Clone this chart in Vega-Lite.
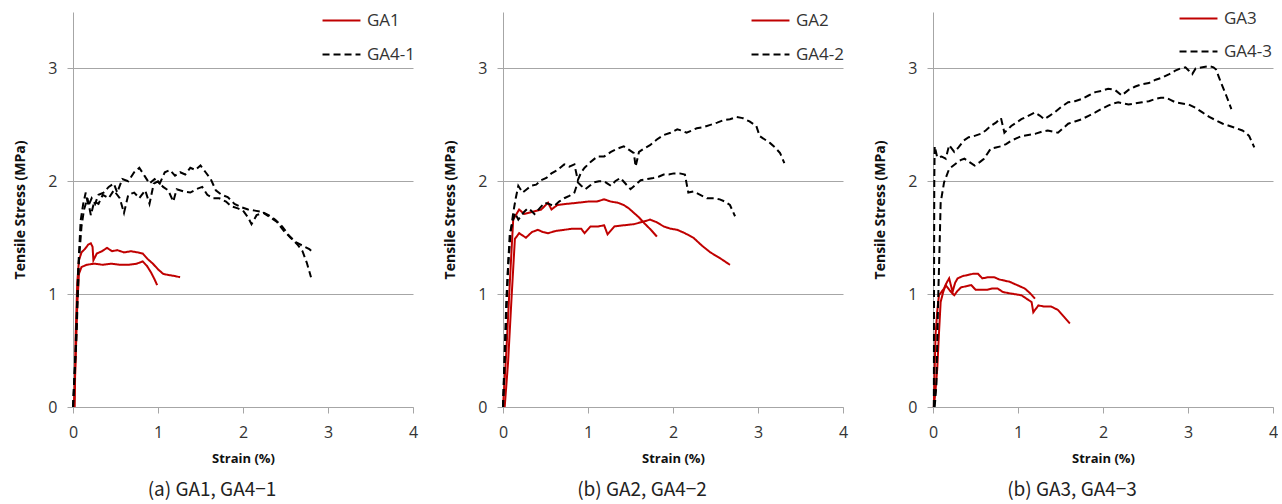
{
"$schema": "https://vega.github.io/schema/vega-lite/v6.json",
"padding": {"left": 13, "top": 10, "right": 0, "bottom": 0},
"spacing": 25,
"config": {
 "font": "Open Sans",
 "view": {"stroke": null},
 "axis": {"domainColor": "#a6a6a6", "tickColor": "#a6a6a6", "gridColor": "#a6a6a6", "labelColor": "#333333", "titleColor": "#111111", "labelFont": "Open Sans", "labelFontSize": 16, "tickSize": 6, "titleFont": "Open Sans", "titleFontWeight": "bold", "labelFlush": false},
 "legend": {"symbolType": "M-4,0H4", "symbolSize": 90, "symbolStrokeWidth": 2, "labelFontSize": 17, "labelFont": "Open Sans", "labelColor": "#333333", "rowPadding": 16, "labelOffset": 17, "padding": 0},
 "title": {"font": "Noto Sans CJK KR", "fontSize": 19, "fontWeight": "normal", "color": "#222222"}
},
"data": {"values": [
{"p":1,"s":"GA1","k":"a","x":0.02,"y":0},{"p":1,"s":"GA1","k":"a","x":0.03,"y":0.6},{"p":1,"s":"GA1","k":"a","x":0.05,"y":1.1},{"p":1,"s":"GA1","k":"a","x":0.07,"y":1.3},{"p":1,"s":"GA1","k":"a","x":0.1,"y":1.37},{"p":1,"s":"GA1","k":"a","x":0.14,"y":1.4},{"p":1,"s":"GA1","k":"a","x":0.18,"y":1.44},{"p":1,"s":"GA1","k":"a","x":0.21,"y":1.45},{"p":1,"s":"GA1","k":"a","x":0.23,"y":1.42},{"p":1,"s":"GA1","k":"a","x":0.24,"y":1.3},{"p":1,"s":"GA1","k":"a","x":0.28,"y":1.36},{"p":1,"s":"GA1","k":"a","x":0.34,"y":1.38},{"p":1,"s":"GA1","k":"a","x":0.4,"y":1.41},{"p":1,"s":"GA1","k":"a","x":0.46,"y":1.38},{"p":1,"s":"GA1","k":"a","x":0.52,"y":1.39},{"p":1,"s":"GA1","k":"a","x":0.6,"y":1.37},{"p":1,"s":"GA1","k":"a","x":0.68,"y":1.38},{"p":1,"s":"GA1","k":"a","x":0.76,"y":1.37},{"p":1,"s":"GA1","k":"a","x":0.82,"y":1.36},{"p":1,"s":"GA1","k":"a","x":0.88,"y":1.31},{"p":1,"s":"GA1","k":"a","x":0.94,"y":1.27},{"p":1,"s":"GA1","k":"a","x":1.0,"y":1.22},{"p":1,"s":"GA1","k":"a","x":1.06,"y":1.18},{"p":1,"s":"GA1","k":"a","x":1.12,"y":1.17},{"p":1,"s":"GA1","k":"a","x":1.2,"y":1.16},{"p":1,"s":"GA1","k":"a","x":1.26,"y":1.15},
{"p":1,"s":"GA1","k":"b","x":0.01,"y":0},{"p":1,"s":"GA1","k":"b","x":0.03,"y":0.4},{"p":1,"s":"GA1","k":"b","x":0.05,"y":0.9},{"p":1,"s":"GA1","k":"b","x":0.07,"y":1.18},{"p":1,"s":"GA1","k":"b","x":0.1,"y":1.24},{"p":1,"s":"GA1","k":"b","x":0.16,"y":1.26},{"p":1,"s":"GA1","k":"b","x":0.25,"y":1.27},{"p":1,"s":"GA1","k":"b","x":0.35,"y":1.26},{"p":1,"s":"GA1","k":"b","x":0.45,"y":1.27},{"p":1,"s":"GA1","k":"b","x":0.55,"y":1.26},{"p":1,"s":"GA1","k":"b","x":0.65,"y":1.26},{"p":1,"s":"GA1","k":"b","x":0.75,"y":1.27},{"p":1,"s":"GA1","k":"b","x":0.82,"y":1.29},{"p":1,"s":"GA1","k":"b","x":0.87,"y":1.25},{"p":1,"s":"GA1","k":"b","x":0.92,"y":1.19},{"p":1,"s":"GA1","k":"b","x":0.96,"y":1.13},{"p":1,"s":"GA1","k":"b","x":0.99,"y":1.08},
{"p":1,"s":"GA4-1","k":"c","x":0,"y":0},{"p":1,"s":"GA4-1","k":"c","x":0.03,"y":0.5},{"p":1,"s":"GA4-1","k":"c","x":0.06,"y":1.2},{"p":1,"s":"GA4-1","k":"c","x":0.09,"y":1.65},{"p":1,"s":"GA4-1","k":"c","x":0.12,"y":1.8},{"p":1,"s":"GA4-1","k":"c","x":0.15,"y":1.9},{"p":1,"s":"GA4-1","k":"c","x":0.18,"y":1.78},{"p":1,"s":"GA4-1","k":"c","x":0.22,"y":1.85},{"p":1,"s":"GA4-1","k":"c","x":0.26,"y":1.8},{"p":1,"s":"GA4-1","k":"c","x":0.3,"y":1.88},{"p":1,"s":"GA4-1","k":"c","x":0.36,"y":1.9},{"p":1,"s":"GA4-1","k":"c","x":0.42,"y":1.95},{"p":1,"s":"GA4-1","k":"c","x":0.48,"y":1.98},{"p":1,"s":"GA4-1","k":"c","x":0.52,"y":1.9},{"p":1,"s":"GA4-1","k":"c","x":0.58,"y":2.02},{"p":1,"s":"GA4-1","k":"c","x":0.65,"y":2.0},{"p":1,"s":"GA4-1","k":"c","x":0.72,"y":2.08},{"p":1,"s":"GA4-1","k":"c","x":0.78,"y":2.12},{"p":1,"s":"GA4-1","k":"c","x":0.84,"y":2.05},{"p":1,"s":"GA4-1","k":"c","x":0.9,"y":1.98},{"p":1,"s":"GA4-1","k":"c","x":0.96,"y":2.02},{"p":1,"s":"GA4-1","k":"c","x":1.02,"y":1.98},{"p":1,"s":"GA4-1","k":"c","x":1.08,"y":2.08},{"p":1,"s":"GA4-1","k":"c","x":1.14,"y":2.1},{"p":1,"s":"GA4-1","k":"c","x":1.2,"y":2.05},{"p":1,"s":"GA4-1","k":"c","x":1.26,"y":2.08},{"p":1,"s":"GA4-1","k":"c","x":1.32,"y":2.06},{"p":1,"s":"GA4-1","k":"c","x":1.38,"y":2.12},{"p":1,"s":"GA4-1","k":"c","x":1.44,"y":2.1},{"p":1,"s":"GA4-1","k":"c","x":1.5,"y":2.14},{"p":1,"s":"GA4-1","k":"c","x":1.56,"y":2.08},{"p":1,"s":"GA4-1","k":"c","x":1.62,"y":2.02},{"p":1,"s":"GA4-1","k":"c","x":1.68,"y":1.92},{"p":1,"s":"GA4-1","k":"c","x":1.75,"y":1.88},{"p":1,"s":"GA4-1","k":"c","x":1.82,"y":1.86},{"p":1,"s":"GA4-1","k":"c","x":1.9,"y":1.8},{"p":1,"s":"GA4-1","k":"c","x":1.98,"y":1.77},{"p":1,"s":"GA4-1","k":"c","x":2.06,"y":1.75},{"p":1,"s":"GA4-1","k":"c","x":2.14,"y":1.74},{"p":1,"s":"GA4-1","k":"c","x":2.22,"y":1.73},{"p":1,"s":"GA4-1","k":"c","x":2.3,"y":1.7},{"p":1,"s":"GA4-1","k":"c","x":2.38,"y":1.66},{"p":1,"s":"GA4-1","k":"c","x":2.46,"y":1.6},{"p":1,"s":"GA4-1","k":"c","x":2.54,"y":1.52},{"p":1,"s":"GA4-1","k":"c","x":2.62,"y":1.46},{"p":1,"s":"GA4-1","k":"c","x":2.7,"y":1.43},{"p":1,"s":"GA4-1","k":"c","x":2.78,"y":1.4},{"p":1,"s":"GA4-1","k":"c","x":2.82,"y":1.37},
{"p":1,"s":"GA4-1","k":"d","x":0,"y":0},{"p":1,"s":"GA4-1","k":"d","x":0.04,"y":0.6},{"p":1,"s":"GA4-1","k":"d","x":0.07,"y":1.3},{"p":1,"s":"GA4-1","k":"d","x":0.1,"y":1.6},{"p":1,"s":"GA4-1","k":"d","x":0.13,"y":1.75},{"p":1,"s":"GA4-1","k":"d","x":0.17,"y":1.85},{"p":1,"s":"GA4-1","k":"d","x":0.21,"y":1.7},{"p":1,"s":"GA4-1","k":"d","x":0.25,"y":1.82},{"p":1,"s":"GA4-1","k":"d","x":0.3,"y":1.8},{"p":1,"s":"GA4-1","k":"d","x":0.35,"y":1.88},{"p":1,"s":"GA4-1","k":"d","x":0.42,"y":1.85},{"p":1,"s":"GA4-1","k":"d","x":0.48,"y":1.92},{"p":1,"s":"GA4-1","k":"d","x":0.55,"y":1.85},{"p":1,"s":"GA4-1","k":"d","x":0.6,"y":1.72},{"p":1,"s":"GA4-1","k":"d","x":0.65,"y":1.88},{"p":1,"s":"GA4-1","k":"d","x":0.72,"y":1.9},{"p":1,"s":"GA4-1","k":"d","x":0.78,"y":1.85},{"p":1,"s":"GA4-1","k":"d","x":0.85,"y":1.92},{"p":1,"s":"GA4-1","k":"d","x":0.9,"y":1.8},{"p":1,"s":"GA4-1","k":"d","x":0.95,"y":1.98},{"p":1,"s":"GA4-1","k":"d","x":1.0,"y":2.0},{"p":1,"s":"GA4-1","k":"d","x":1.06,"y":1.95},{"p":1,"s":"GA4-1","k":"d","x":1.12,"y":1.92},{"p":1,"s":"GA4-1","k":"d","x":1.18,"y":1.82},{"p":1,"s":"GA4-1","k":"d","x":1.22,"y":1.93},{"p":1,"s":"GA4-1","k":"d","x":1.3,"y":1.91},{"p":1,"s":"GA4-1","k":"d","x":1.38,"y":1.9},{"p":1,"s":"GA4-1","k":"d","x":1.45,"y":1.93},{"p":1,"s":"GA4-1","k":"d","x":1.52,"y":1.95},{"p":1,"s":"GA4-1","k":"d","x":1.58,"y":1.88},{"p":1,"s":"GA4-1","k":"d","x":1.65,"y":1.85},{"p":1,"s":"GA4-1","k":"d","x":1.72,"y":1.85},{"p":1,"s":"GA4-1","k":"d","x":1.8,"y":1.82},{"p":1,"s":"GA4-1","k":"d","x":1.86,"y":1.78},{"p":1,"s":"GA4-1","k":"d","x":1.94,"y":1.76},{"p":1,"s":"GA4-1","k":"d","x":2.0,"y":1.74},{"p":1,"s":"GA4-1","k":"d","x":2.06,"y":1.68},{"p":1,"s":"GA4-1","k":"d","x":2.1,"y":1.62},{"p":1,"s":"GA4-1","k":"d","x":2.16,"y":1.7},{"p":1,"s":"GA4-1","k":"d","x":2.24,"y":1.72},{"p":1,"s":"GA4-1","k":"d","x":2.32,"y":1.68},{"p":1,"s":"GA4-1","k":"d","x":2.4,"y":1.64},{"p":1,"s":"GA4-1","k":"d","x":2.48,"y":1.56},{"p":1,"s":"GA4-1","k":"d","x":2.56,"y":1.5},{"p":1,"s":"GA4-1","k":"d","x":2.64,"y":1.44},{"p":1,"s":"GA4-1","k":"d","x":2.7,"y":1.38},{"p":1,"s":"GA4-1","k":"d","x":2.75,"y":1.28},{"p":1,"s":"GA4-1","k":"d","x":2.8,"y":1.15},
{"p":2,"s":"GA2","k":"e","x":0,"y":0},{"p":2,"s":"GA2","k":"e","x":0.04,"y":0.5},{"p":2,"s":"GA2","k":"e","x":0.08,"y":1.1},{"p":2,"s":"GA2","k":"e","x":0.12,"y":1.66},{"p":2,"s":"GA2","k":"e","x":0.19,"y":1.75},{"p":2,"s":"GA2","k":"e","x":0.25,"y":1.71},{"p":2,"s":"GA2","k":"e","x":0.35,"y":1.73},{"p":2,"s":"GA2","k":"e","x":0.45,"y":1.75},{"p":2,"s":"GA2","k":"e","x":0.53,"y":1.81},{"p":2,"s":"GA2","k":"e","x":0.57,"y":1.75},{"p":2,"s":"GA2","k":"e","x":0.64,"y":1.79},{"p":2,"s":"GA2","k":"e","x":0.75,"y":1.8},{"p":2,"s":"GA2","k":"e","x":0.88,"y":1.81},{"p":2,"s":"GA2","k":"e","x":1.0,"y":1.82},{"p":2,"s":"GA2","k":"e","x":1.1,"y":1.82},{"p":2,"s":"GA2","k":"e","x":1.19,"y":1.84},{"p":2,"s":"GA2","k":"e","x":1.27,"y":1.82},{"p":2,"s":"GA2","k":"e","x":1.35,"y":1.81},{"p":2,"s":"GA2","k":"e","x":1.42,"y":1.79},{"p":2,"s":"GA2","k":"e","x":1.48,"y":1.76},{"p":2,"s":"GA2","k":"e","x":1.54,"y":1.72},{"p":2,"s":"GA2","k":"e","x":1.6,"y":1.68},{"p":2,"s":"GA2","k":"e","x":1.66,"y":1.63},{"p":2,"s":"GA2","k":"e","x":1.74,"y":1.57},{"p":2,"s":"GA2","k":"e","x":1.81,"y":1.51},
{"p":2,"s":"GA2","k":"f","x":0.02,"y":0},{"p":2,"s":"GA2","k":"f","x":0.06,"y":0.4},{"p":2,"s":"GA2","k":"f","x":0.1,"y":0.96},{"p":2,"s":"GA2","k":"f","x":0.14,"y":1.49},{"p":2,"s":"GA2","k":"f","x":0.19,"y":1.54},{"p":2,"s":"GA2","k":"f","x":0.27,"y":1.5},{"p":2,"s":"GA2","k":"f","x":0.34,"y":1.55},{"p":2,"s":"GA2","k":"f","x":0.41,"y":1.57},{"p":2,"s":"GA2","k":"f","x":0.47,"y":1.55},{"p":2,"s":"GA2","k":"f","x":0.53,"y":1.54},{"p":2,"s":"GA2","k":"f","x":0.62,"y":1.56},{"p":2,"s":"GA2","k":"f","x":0.72,"y":1.57},{"p":2,"s":"GA2","k":"f","x":0.82,"y":1.58},{"p":2,"s":"GA2","k":"f","x":0.92,"y":1.58},{"p":2,"s":"GA2","k":"f","x":0.96,"y":1.54},{"p":2,"s":"GA2","k":"f","x":1.03,"y":1.6},{"p":2,"s":"GA2","k":"f","x":1.12,"y":1.6},{"p":2,"s":"GA2","k":"f","x":1.19,"y":1.61},{"p":2,"s":"GA2","k":"f","x":1.23,"y":1.53},{"p":2,"s":"GA2","k":"f","x":1.31,"y":1.6},{"p":2,"s":"GA2","k":"f","x":1.42,"y":1.61},{"p":2,"s":"GA2","k":"f","x":1.54,"y":1.62},{"p":2,"s":"GA2","k":"f","x":1.64,"y":1.64},{"p":2,"s":"GA2","k":"f","x":1.73,"y":1.66},{"p":2,"s":"GA2","k":"f","x":1.8,"y":1.64},{"p":2,"s":"GA2","k":"f","x":1.89,"y":1.6},{"p":2,"s":"GA2","k":"f","x":1.97,"y":1.58},{"p":2,"s":"GA2","k":"f","x":2.05,"y":1.57},{"p":2,"s":"GA2","k":"f","x":2.14,"y":1.54},{"p":2,"s":"GA2","k":"f","x":2.24,"y":1.5},{"p":2,"s":"GA2","k":"f","x":2.34,"y":1.43},{"p":2,"s":"GA2","k":"f","x":2.44,"y":1.37},{"p":2,"s":"GA2","k":"f","x":2.55,"y":1.32},{"p":2,"s":"GA2","k":"f","x":2.67,"y":1.26},
{"p":2,"s":"GA4-2","k":"g","x":0,"y":0},{"p":2,"s":"GA4-2","k":"g","x":0.03,"y":0.6},{"p":2,"s":"GA4-2","k":"g","x":0.06,"y":1.25},{"p":2,"s":"GA4-2","k":"g","x":0.09,"y":1.55},{"p":2,"s":"GA4-2","k":"g","x":0.12,"y":1.72},{"p":2,"s":"GA4-2","k":"g","x":0.15,"y":1.85},{"p":2,"s":"GA4-2","k":"g","x":0.18,"y":1.96},{"p":2,"s":"GA4-2","k":"g","x":0.23,"y":1.9},{"p":2,"s":"GA4-2","k":"g","x":0.28,"y":1.93},{"p":2,"s":"GA4-2","k":"g","x":0.33,"y":1.96},{"p":2,"s":"GA4-2","k":"g","x":0.39,"y":1.97},{"p":2,"s":"GA4-2","k":"g","x":0.45,"y":2.01},{"p":2,"s":"GA4-2","k":"g","x":0.51,"y":2.03},{"p":2,"s":"GA4-2","k":"g","x":0.57,"y":2.07},{"p":2,"s":"GA4-2","k":"g","x":0.64,"y":2.1},{"p":2,"s":"GA4-2","k":"g","x":0.72,"y":2.15},{"p":2,"s":"GA4-2","k":"g","x":0.78,"y":2.13},{"p":2,"s":"GA4-2","k":"g","x":0.84,"y":2.15},{"p":2,"s":"GA4-2","k":"g","x":0.88,"y":2.01},{"p":2,"s":"GA4-2","k":"g","x":0.92,"y":2.08},{"p":2,"s":"GA4-2","k":"g","x":0.96,"y":2.12},{"p":2,"s":"GA4-2","k":"g","x":1.03,"y":2.17},{"p":2,"s":"GA4-2","k":"g","x":1.11,"y":2.22},{"p":2,"s":"GA4-2","k":"g","x":1.19,"y":2.22},{"p":2,"s":"GA4-2","k":"g","x":1.27,"y":2.26},{"p":2,"s":"GA4-2","k":"g","x":1.35,"y":2.29},{"p":2,"s":"GA4-2","k":"g","x":1.42,"y":2.31},{"p":2,"s":"GA4-2","k":"g","x":1.48,"y":2.28},{"p":2,"s":"GA4-2","k":"g","x":1.54,"y":2.25},{"p":2,"s":"GA4-2","k":"g","x":1.56,"y":2.13},{"p":2,"s":"GA4-2","k":"g","x":1.6,"y":2.26},{"p":2,"s":"GA4-2","k":"g","x":1.66,"y":2.29},{"p":2,"s":"GA4-2","k":"g","x":1.73,"y":2.32},{"p":2,"s":"GA4-2","k":"g","x":1.81,"y":2.37},{"p":2,"s":"GA4-2","k":"g","x":1.89,"y":2.41},{"p":2,"s":"GA4-2","k":"g","x":1.97,"y":2.43},{"p":2,"s":"GA4-2","k":"g","x":2.05,"y":2.46},{"p":2,"s":"GA4-2","k":"g","x":2.1,"y":2.45},{"p":2,"s":"GA4-2","k":"g","x":2.16,"y":2.43},{"p":2,"s":"GA4-2","k":"g","x":2.22,"y":2.45},{"p":2,"s":"GA4-2","k":"g","x":2.28,"y":2.47},{"p":2,"s":"GA4-2","k":"g","x":2.36,"y":2.48},{"p":2,"s":"GA4-2","k":"g","x":2.44,"y":2.5},{"p":2,"s":"GA4-2","k":"g","x":2.52,"y":2.52},{"p":2,"s":"GA4-2","k":"g","x":2.59,"y":2.54},{"p":2,"s":"GA4-2","k":"g","x":2.67,"y":2.55},{"p":2,"s":"GA4-2","k":"g","x":2.75,"y":2.57},{"p":2,"s":"GA4-2","k":"g","x":2.82,"y":2.56},{"p":2,"s":"GA4-2","k":"g","x":2.9,"y":2.53},{"p":2,"s":"GA4-2","k":"g","x":2.98,"y":2.49},{"p":2,"s":"GA4-2","k":"g","x":3.02,"y":2.4},{"p":2,"s":"GA4-2","k":"g","x":3.08,"y":2.37},{"p":2,"s":"GA4-2","k":"g","x":3.14,"y":2.34},{"p":2,"s":"GA4-2","k":"g","x":3.2,"y":2.3},{"p":2,"s":"GA4-2","k":"g","x":3.26,"y":2.25},{"p":2,"s":"GA4-2","k":"g","x":3.31,"y":2.16},
{"p":2,"s":"GA4-2","k":"h","x":0,"y":0},{"p":2,"s":"GA4-2","k":"h","x":0.02,"y":0.5},{"p":2,"s":"GA4-2","k":"h","x":0.04,"y":0.96},{"p":2,"s":"GA4-2","k":"h","x":0.08,"y":1.54},{"p":2,"s":"GA4-2","k":"h","x":0.14,"y":1.72},{"p":2,"s":"GA4-2","k":"h","x":0.18,"y":1.66},{"p":2,"s":"GA4-2","k":"h","x":0.21,"y":1.69},{"p":2,"s":"GA4-2","k":"h","x":0.25,"y":1.73},{"p":2,"s":"GA4-2","k":"h","x":0.29,"y":1.76},{"p":2,"s":"GA4-2","k":"h","x":0.33,"y":1.74},{"p":2,"s":"GA4-2","k":"h","x":0.37,"y":1.71},{"p":2,"s":"GA4-2","k":"h","x":0.43,"y":1.76},{"p":2,"s":"GA4-2","k":"h","x":0.49,"y":1.81},{"p":2,"s":"GA4-2","k":"h","x":0.54,"y":1.8},{"p":2,"s":"GA4-2","k":"h","x":0.6,"y":1.78},{"p":2,"s":"GA4-2","k":"h","x":0.66,"y":1.82},{"p":2,"s":"GA4-2","k":"h","x":0.72,"y":1.85},{"p":2,"s":"GA4-2","k":"h","x":0.78,"y":1.87},{"p":2,"s":"GA4-2","k":"h","x":0.84,"y":1.9},{"p":2,"s":"GA4-2","k":"h","x":0.88,"y":1.99},{"p":2,"s":"GA4-2","k":"h","x":0.92,"y":1.96},{"p":2,"s":"GA4-2","k":"h","x":0.97,"y":1.93},{"p":2,"s":"GA4-2","k":"h","x":1.02,"y":1.96},{"p":2,"s":"GA4-2","k":"h","x":1.07,"y":1.99},{"p":2,"s":"GA4-2","k":"h","x":1.13,"y":2.0},{"p":2,"s":"GA4-2","k":"h","x":1.19,"y":2.0},{"p":2,"s":"GA4-2","k":"h","x":1.23,"y":1.98},{"p":2,"s":"GA4-2","k":"h","x":1.27,"y":1.96},{"p":2,"s":"GA4-2","k":"h","x":1.32,"y":2.0},{"p":2,"s":"GA4-2","k":"h","x":1.38,"y":2.03},{"p":2,"s":"GA4-2","k":"h","x":1.44,"y":1.98},{"p":2,"s":"GA4-2","k":"h","x":1.5,"y":1.93},{"p":2,"s":"GA4-2","k":"h","x":1.56,"y":1.97},{"p":2,"s":"GA4-2","k":"h","x":1.62,"y":2.01},{"p":2,"s":"GA4-2","k":"h","x":1.7,"y":2.02},{"p":2,"s":"GA4-2","k":"h","x":1.77,"y":2.03},{"p":2,"s":"GA4-2","k":"h","x":1.83,"y":2.04},{"p":2,"s":"GA4-2","k":"h","x":1.89,"y":2.06},{"p":2,"s":"GA4-2","k":"h","x":1.95,"y":2.06},{"p":2,"s":"GA4-2","k":"h","x":2.01,"y":2.07},{"p":2,"s":"GA4-2","k":"h","x":2.08,"y":2.07},{"p":2,"s":"GA4-2","k":"h","x":2.14,"y":2.06},{"p":2,"s":"GA4-2","k":"h","x":2.18,"y":1.9},{"p":2,"s":"GA4-2","k":"h","x":2.24,"y":1.91},{"p":2,"s":"GA4-2","k":"h","x":2.32,"y":1.88},{"p":2,"s":"GA4-2","k":"h","x":2.4,"y":1.85},{"p":2,"s":"GA4-2","k":"h","x":2.48,"y":1.85},{"p":2,"s":"GA4-2","k":"h","x":2.55,"y":1.84},{"p":2,"s":"GA4-2","k":"h","x":2.61,"y":1.82},{"p":2,"s":"GA4-2","k":"h","x":2.67,"y":1.79},{"p":2,"s":"GA4-2","k":"h","x":2.73,"y":1.69},
{"p":3,"s":"GA3","k":"i","x":0.01,"y":0},{"p":3,"s":"GA3","k":"i","x":0.02,"y":0.35},{"p":3,"s":"GA3","k":"i","x":0.03,"y":0.64},{"p":3,"s":"GA3","k":"i","x":0.05,"y":0.85},{"p":3,"s":"GA3","k":"i","x":0.07,"y":0.99},{"p":3,"s":"GA3","k":"i","x":0.1,"y":1.02},{"p":3,"s":"GA3","k":"i","x":0.13,"y":1.05},{"p":3,"s":"GA3","k":"i","x":0.16,"y":1.1},{"p":3,"s":"GA3","k":"i","x":0.19,"y":1.14},{"p":3,"s":"GA3","k":"i","x":0.21,"y":1.08},{"p":3,"s":"GA3","k":"i","x":0.23,"y":1.02},{"p":3,"s":"GA3","k":"i","x":0.26,"y":1.1},{"p":3,"s":"GA3","k":"i","x":0.29,"y":1.14},{"p":3,"s":"GA3","k":"i","x":0.35,"y":1.16},{"p":3,"s":"GA3","k":"i","x":0.41,"y":1.17},{"p":3,"s":"GA3","k":"i","x":0.47,"y":1.18},{"p":3,"s":"GA3","k":"i","x":0.53,"y":1.18},{"p":3,"s":"GA3","k":"i","x":0.58,"y":1.14},{"p":3,"s":"GA3","k":"i","x":0.65,"y":1.15},{"p":3,"s":"GA3","k":"i","x":0.72,"y":1.15},{"p":3,"s":"GA3","k":"i","x":0.78,"y":1.13},{"p":3,"s":"GA3","k":"i","x":0.84,"y":1.12},{"p":3,"s":"GA3","k":"i","x":0.9,"y":1.11},{"p":3,"s":"GA3","k":"i","x":0.96,"y":1.09},{"p":3,"s":"GA3","k":"i","x":1.02,"y":1.07},{"p":3,"s":"GA3","k":"i","x":1.08,"y":1.05},{"p":3,"s":"GA3","k":"i","x":1.14,"y":1.01},{"p":3,"s":"GA3","k":"i","x":1.2,"y":0.96},
{"p":3,"s":"GA3","k":"j","x":0.01,"y":0},{"p":3,"s":"GA3","k":"j","x":0.03,"y":0.15},{"p":3,"s":"GA3","k":"j","x":0.05,"y":0.34},{"p":3,"s":"GA3","k":"j","x":0.07,"y":0.65},{"p":3,"s":"GA3","k":"j","x":0.09,"y":0.93},{"p":3,"s":"GA3","k":"j","x":0.12,"y":1.02},{"p":3,"s":"GA3","k":"j","x":0.15,"y":1.08},{"p":3,"s":"GA3","k":"j","x":0.2,"y":1.03},{"p":3,"s":"GA3","k":"j","x":0.25,"y":0.99},{"p":3,"s":"GA3","k":"j","x":0.29,"y":1.03},{"p":3,"s":"GA3","k":"j","x":0.33,"y":1.06},{"p":3,"s":"GA3","k":"j","x":0.39,"y":1.07},{"p":3,"s":"GA3","k":"j","x":0.45,"y":1.08},{"p":3,"s":"GA3","k":"j","x":0.5,"y":1.04},{"p":3,"s":"GA3","k":"j","x":0.57,"y":1.04},{"p":3,"s":"GA3","k":"j","x":0.64,"y":1.04},{"p":3,"s":"GA3","k":"j","x":0.7,"y":1.05},{"p":3,"s":"GA3","k":"j","x":0.76,"y":1.05},{"p":3,"s":"GA3","k":"j","x":0.82,"y":1.02},{"p":3,"s":"GA3","k":"j","x":0.88,"y":1.01},{"p":3,"s":"GA3","k":"j","x":0.96,"y":1.0},{"p":3,"s":"GA3","k":"j","x":1.04,"y":0.99},{"p":3,"s":"GA3","k":"j","x":1.1,"y":0.96},{"p":3,"s":"GA3","k":"j","x":1.16,"y":0.93},{"p":3,"s":"GA3","k":"j","x":1.18,"y":0.84},{"p":3,"s":"GA3","k":"j","x":1.24,"y":0.9},{"p":3,"s":"GA3","k":"j","x":1.31,"y":0.89},{"p":3,"s":"GA3","k":"j","x":1.39,"y":0.89},{"p":3,"s":"GA3","k":"j","x":1.47,"y":0.86},{"p":3,"s":"GA3","k":"j","x":1.54,"y":0.8},{"p":3,"s":"GA3","k":"j","x":1.61,"y":0.74},
{"p":3,"s":"GA4-3","k":"k","x":0.01,"y":0},{"p":3,"s":"GA4-3","k":"k","x":0.012,"y":1.0},{"p":3,"s":"GA4-3","k":"k","x":0.015,"y":2.0},{"p":3,"s":"GA4-3","k":"k","x":0.02,"y":2.31},{"p":3,"s":"GA4-3","k":"k","x":0.05,"y":2.21},{"p":3,"s":"GA4-3","k":"k","x":0.1,"y":2.22},{"p":3,"s":"GA4-3","k":"k","x":0.15,"y":2.2},{"p":3,"s":"GA4-3","k":"k","x":0.19,"y":2.32},{"p":3,"s":"GA4-3","k":"k","x":0.25,"y":2.26},{"p":3,"s":"GA4-3","k":"k","x":0.3,"y":2.3},{"p":3,"s":"GA4-3","k":"k","x":0.36,"y":2.36},{"p":3,"s":"GA4-3","k":"k","x":0.42,"y":2.39},{"p":3,"s":"GA4-3","k":"k","x":0.48,"y":2.4},{"p":3,"s":"GA4-3","k":"k","x":0.56,"y":2.42},{"p":3,"s":"GA4-3","k":"k","x":0.62,"y":2.45},{"p":3,"s":"GA4-3","k":"k","x":0.68,"y":2.49},{"p":3,"s":"GA4-3","k":"k","x":0.74,"y":2.52},{"p":3,"s":"GA4-3","k":"k","x":0.8,"y":2.56},{"p":3,"s":"GA4-3","k":"k","x":0.84,"y":2.43},{"p":3,"s":"GA4-3","k":"k","x":0.88,"y":2.46},{"p":3,"s":"GA4-3","k":"k","x":0.92,"y":2.49},{"p":3,"s":"GA4-3","k":"k","x":0.98,"y":2.52},{"p":3,"s":"GA4-3","k":"k","x":1.04,"y":2.55},{"p":3,"s":"GA4-3","k":"k","x":1.12,"y":2.58},{"p":3,"s":"GA4-3","k":"k","x":1.2,"y":2.61},{"p":3,"s":"GA4-3","k":"k","x":1.26,"y":2.58},{"p":3,"s":"GA4-3","k":"k","x":1.31,"y":2.55},{"p":3,"s":"GA4-3","k":"k","x":1.37,"y":2.58},{"p":3,"s":"GA4-3","k":"k","x":1.43,"y":2.61},{"p":3,"s":"GA4-3","k":"k","x":1.51,"y":2.66},{"p":3,"s":"GA4-3","k":"k","x":1.59,"y":2.7},{"p":3,"s":"GA4-3","k":"k","x":1.67,"y":2.71},{"p":3,"s":"GA4-3","k":"k","x":1.75,"y":2.73},{"p":3,"s":"GA4-3","k":"k","x":1.83,"y":2.76},{"p":3,"s":"GA4-3","k":"k","x":1.91,"y":2.79},{"p":3,"s":"GA4-3","k":"k","x":1.98,"y":2.8},{"p":3,"s":"GA4-3","k":"k","x":2.06,"y":2.82},{"p":3,"s":"GA4-3","k":"k","x":2.14,"y":2.81},{"p":3,"s":"GA4-3","k":"k","x":2.22,"y":2.76},{"p":3,"s":"GA4-3","k":"k","x":2.3,"y":2.81},{"p":3,"s":"GA4-3","k":"k","x":2.38,"y":2.84},{"p":3,"s":"GA4-3","k":"k","x":2.46,"y":2.86},{"p":3,"s":"GA4-3","k":"k","x":2.54,"y":2.87},{"p":3,"s":"GA4-3","k":"k","x":2.62,"y":2.9},{"p":3,"s":"GA4-3","k":"k","x":2.7,"y":2.92},{"p":3,"s":"GA4-3","k":"k","x":2.78,"y":2.95},{"p":3,"s":"GA4-3","k":"k","x":2.85,"y":2.98},{"p":3,"s":"GA4-3","k":"k","x":2.91,"y":3.0},{"p":3,"s":"GA4-3","k":"k","x":2.97,"y":3.01},{"p":3,"s":"GA4-3","k":"k","x":3.01,"y":2.98},{"p":3,"s":"GA4-3","k":"k","x":3.05,"y":2.95},{"p":3,"s":"GA4-3","k":"k","x":3.09,"y":3.0},{"p":3,"s":"GA4-3","k":"k","x":3.17,"y":3.01},{"p":3,"s":"GA4-3","k":"k","x":3.25,"y":3.02},{"p":3,"s":"GA4-3","k":"k","x":3.3,"y":3.01},{"p":3,"s":"GA4-3","k":"k","x":3.33,"y":2.99},{"p":3,"s":"GA4-3","k":"k","x":3.36,"y":2.93},{"p":3,"s":"GA4-3","k":"k","x":3.39,"y":2.87},{"p":3,"s":"GA4-3","k":"k","x":3.45,"y":2.76},{"p":3,"s":"GA4-3","k":"k","x":3.51,"y":2.64},
{"p":3,"s":"GA4-3","k":"l","x":0.02,"y":0},{"p":3,"s":"GA4-3","k":"l","x":0.04,"y":0.2},{"p":3,"s":"GA4-3","k":"l","x":0.06,"y":0.93},{"p":3,"s":"GA4-3","k":"l","x":0.08,"y":1.5},{"p":3,"s":"GA4-3","k":"l","x":0.09,"y":1.81},{"p":3,"s":"GA4-3","k":"l","x":0.13,"y":1.99},{"p":3,"s":"GA4-3","k":"l","x":0.19,"y":2.11},{"p":3,"s":"GA4-3","k":"l","x":0.24,"y":2.14},{"p":3,"s":"GA4-3","k":"l","x":0.29,"y":2.17},{"p":3,"s":"GA4-3","k":"l","x":0.33,"y":2.19},{"p":3,"s":"GA4-3","k":"l","x":0.37,"y":2.2},{"p":3,"s":"GA4-3","k":"l","x":0.43,"y":2.17},{"p":3,"s":"GA4-3","k":"l","x":0.49,"y":2.14},{"p":3,"s":"GA4-3","k":"l","x":0.55,"y":2.17},{"p":3,"s":"GA4-3","k":"l","x":0.6,"y":2.2},{"p":3,"s":"GA4-3","k":"l","x":0.68,"y":2.29},{"p":3,"s":"GA4-3","k":"l","x":0.74,"y":2.3},{"p":3,"s":"GA4-3","k":"l","x":0.8,"y":2.31},{"p":3,"s":"GA4-3","k":"l","x":0.86,"y":2.33},{"p":3,"s":"GA4-3","k":"l","x":0.92,"y":2.36},{"p":3,"s":"GA4-3","k":"l","x":0.98,"y":2.38},{"p":3,"s":"GA4-3","k":"l","x":1.04,"y":2.4},{"p":3,"s":"GA4-3","k":"l","x":1.12,"y":2.41},{"p":3,"s":"GA4-3","k":"l","x":1.2,"y":2.42},{"p":3,"s":"GA4-3","k":"l","x":1.28,"y":2.44},{"p":3,"s":"GA4-3","k":"l","x":1.35,"y":2.45},{"p":3,"s":"GA4-3","k":"l","x":1.41,"y":2.44},{"p":3,"s":"GA4-3","k":"l","x":1.47,"y":2.43},{"p":3,"s":"GA4-3","k":"l","x":1.53,"y":2.47},{"p":3,"s":"GA4-3","k":"l","x":1.59,"y":2.51},{"p":3,"s":"GA4-3","k":"l","x":1.67,"y":2.53},{"p":3,"s":"GA4-3","k":"l","x":1.75,"y":2.55},{"p":3,"s":"GA4-3","k":"l","x":1.83,"y":2.58},{"p":3,"s":"GA4-3","k":"l","x":1.91,"y":2.61},{"p":3,"s":"GA4-3","k":"l","x":1.98,"y":2.64},{"p":3,"s":"GA4-3","k":"l","x":2.06,"y":2.67},{"p":3,"s":"GA4-3","k":"l","x":2.12,"y":2.69},{"p":3,"s":"GA4-3","k":"l","x":2.18,"y":2.7},{"p":3,"s":"GA4-3","k":"l","x":2.24,"y":2.69},{"p":3,"s":"GA4-3","k":"l","x":2.3,"y":2.68},{"p":3,"s":"GA4-3","k":"l","x":2.38,"y":2.69},{"p":3,"s":"GA4-3","k":"l","x":2.46,"y":2.7},{"p":3,"s":"GA4-3","k":"l","x":2.54,"y":2.71},{"p":3,"s":"GA4-3","k":"l","x":2.62,"y":2.73},{"p":3,"s":"GA4-3","k":"l","x":2.68,"y":2.74},{"p":3,"s":"GA4-3","k":"l","x":2.74,"y":2.74},{"p":3,"s":"GA4-3","k":"l","x":2.8,"y":2.72},{"p":3,"s":"GA4-3","k":"l","x":2.85,"y":2.7},{"p":3,"s":"GA4-3","k":"l","x":2.93,"y":2.69},{"p":3,"s":"GA4-3","k":"l","x":3.01,"y":2.68},{"p":3,"s":"GA4-3","k":"l","x":3.09,"y":2.65},{"p":3,"s":"GA4-3","k":"l","x":3.17,"y":2.61},{"p":3,"s":"GA4-3","k":"l","x":3.25,"y":2.57},{"p":3,"s":"GA4-3","k":"l","x":3.33,"y":2.54},{"p":3,"s":"GA4-3","k":"l","x":3.41,"y":2.51},{"p":3,"s":"GA4-3","k":"l","x":3.49,"y":2.49},{"p":3,"s":"GA4-3","k":"l","x":3.57,"y":2.47},{"p":3,"s":"GA4-3","k":"l","x":3.64,"y":2.45},{"p":3,"s":"GA4-3","k":"l","x":3.68,"y":2.43},{"p":3,"s":"GA4-3","k":"l","x":3.72,"y":2.4},{"p":3,"s":"GA4-3","k":"l","x":3.75,"y":2.35},{"p":3,"s":"GA4-3","k":"l","x":3.78,"y":2.3}
]},
"hconcat": [
 {
  "width": 340, "height": 395,
  "title": {"text": "(a) GA1, GA4−1", "orient": "bottom", "anchor": "middle", "dx": -31, "offset": 16},
  "transform": [{"filter": {"field": "p", "equal": 1}}],
  "mark": {"type": "line", "strokeWidth": 2},
  "encoding": {
   "x": {"field": "x", "type": "quantitative", "scale": {"domain": [0, 4], "nice": false}, "axis": {"values": [0, 1, 2, 3, 4], "grid": false, "title": "Strain (%)", "titleFontSize": 13, "labelPadding": 11, "titlePadding": 12}},
   "y": {"field": "y", "type": "quantitative", "scale": {"domain": [0, 3.5], "nice": false}, "axis": {"values": [0, 1, 2, 3], "grid": true, "title": "Tensile Stress (MPa)", "titleFontSize": 14, "labelPadding": 10, "minExtent": 30, "maxExtent": 30, "titlePadding": 16}},
   "color": {"field": "s", "type": "nominal", "scale": {"domain": ["GA1", "GA4-1"], "range": ["#c00000", "#000000"]}, "legend": {"orient": "none", "legendX": 260, "legendY": 0, "title": null}},
   "strokeDash": {"field": "s", "type": "nominal", "scale": {"domain": ["GA1", "GA4-1"], "range": [[1, 0], [7, 4]]}, "legend": {"orient": "none", "legendX": 260, "legendY": 0, "title": null}},
   "detail": {"field": "k"}
  }
 },
 {
  "width": 340, "height": 395,
  "title": {"text": "(b) GA2, GA4−2", "orient": "bottom", "anchor": "middle", "dx": -31, "offset": 16},
  "transform": [{"filter": {"field": "p", "equal": 2}}],
  "mark": {"type": "line", "strokeWidth": 2},
  "encoding": {
   "x": {"field": "x", "type": "quantitative", "scale": {"domain": [0, 4], "nice": false}, "axis": {"values": [0, 1, 2, 3, 4], "grid": false, "title": "Strain (%)", "titleFontSize": 13, "labelPadding": 11, "titlePadding": 12}},
   "y": {"field": "y", "type": "quantitative", "scale": {"domain": [0, 3.5], "nice": false}, "axis": {"values": [0, 1, 2, 3], "grid": true, "title": "Tensile Stress (MPa)", "titleFontSize": 14, "labelPadding": 10, "minExtent": 30, "maxExtent": 30, "titlePadding": 16}},
   "color": {"field": "s", "type": "nominal", "scale": {"domain": ["GA2", "GA4-2"], "range": ["#c00000", "#000000"]}, "legend": {"orient": "none", "legendX": 259, "legendY": 0, "title": null}},
   "strokeDash": {"field": "s", "type": "nominal", "scale": {"domain": ["GA2", "GA4-2"], "range": [[1, 0], [7, 4]]}, "legend": {"orient": "none", "legendX": 259, "legendY": 0, "title": null}},
   "detail": {"field": "k"}
  }
 },
 {
  "width": 340, "height": 395,
  "title": {"text": "(b) GA3, GA4−3", "orient": "bottom", "anchor": "middle", "dx": -31, "offset": 16},
  "transform": [{"filter": {"field": "p", "equal": 3}}],
  "mark": {"type": "line", "strokeWidth": 2},
  "encoding": {
   "x": {"field": "x", "type": "quantitative", "scale": {"domain": [0, 4], "nice": false}, "axis": {"values": [0, 1, 2, 3, 4], "grid": false, "title": "Strain (%)", "titleFontSize": 13, "labelPadding": 11, "titlePadding": 12}},
   "y": {"field": "y", "type": "quantitative", "scale": {"domain": [0, 3.5], "nice": false}, "axis": {"values": [0, 1, 2, 3], "grid": true, "title": "Tensile Stress (MPa)", "titleFontSize": 14, "labelPadding": 10, "minExtent": 30, "maxExtent": 30, "titlePadding": 16}},
   "color": {"field": "s", "type": "nominal", "scale": {"domain": ["GA3", "GA4-3"], "range": ["#c00000", "#000000"]}, "legend": {"orient": "none", "legendX": 257, "legendY": -2, "title": null, "rowPadding": 15}},
   "strokeDash": {"field": "s", "type": "nominal", "scale": {"domain": ["GA3", "GA4-3"], "range": [[1, 0], [7, 4]]}, "legend": {"orient": "none", "legendX": 257, "legendY": -2, "title": null, "rowPadding": 15}},
   "detail": {"field": "k"}
  }
 }
],
"resolve": {"scale": {"color": "independent", "strokeDash": "independent"}}
}
